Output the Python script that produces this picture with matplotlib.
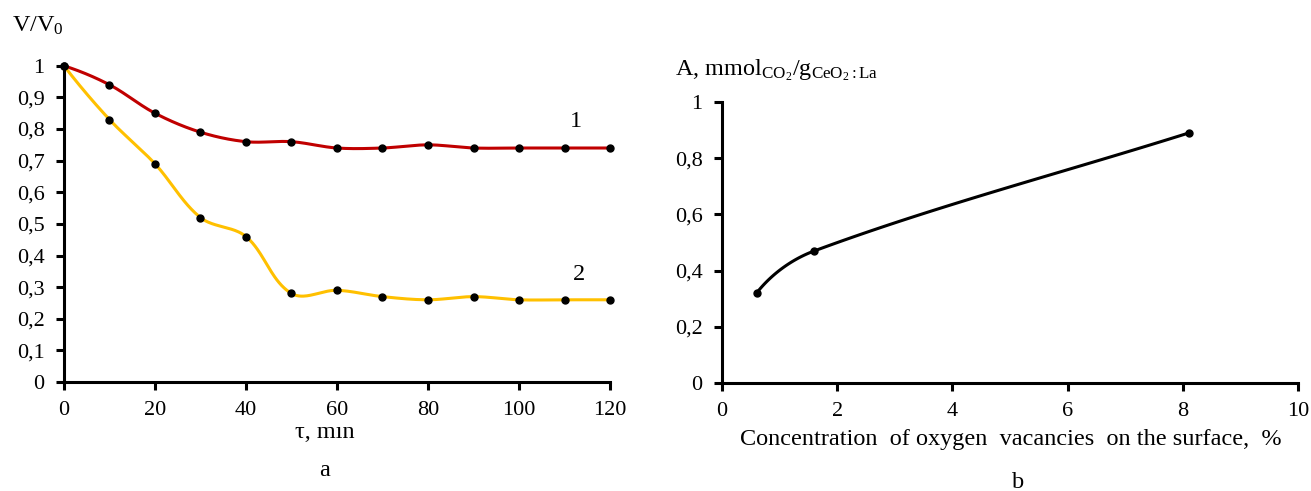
import numpy as np
import matplotlib
matplotlib.use("Agg")
import matplotlib.pyplot as plt
from matplotlib.ticker import FuncFormatter

plt.rcParams['font.family'] = ['Liberation Serif', 'DejaVu Serif']
plt.rcParams['mathtext.fontset'] = 'custom'
plt.rcParams['mathtext.rm'] = 'Liberation Serif'
plt.rcParams['mathtext.it'] = 'Liberation Serif:italic'

# ---- data ----
time_min = [0, 10, 20, 30, 40, 50, 60, 70, 80, 90, 100, 110, 120]
ratio_curve1 = [1.0, 0.94, 0.85, 0.79, 0.76, 0.76, 0.74, 0.74, 0.75, 0.74, 0.74, 0.74, 0.74]
ratio_curve2 = [1.0, 0.83, 0.69, 0.52, 0.46, 0.28, 0.29, 0.27, 0.26, 0.27, 0.26, 0.26, 0.26]
vacancy_conc = [0.6, 1.6, 8.1]
adsorption = [0.32, 0.47, 0.89]


def smooth(ax, x, y, n=40):
    """Cubic Bezier smoothing in screen space (like a spreadsheet 'smoothed line')."""
    fig = ax.figure
    bb = ax.get_position()
    W = bb.width * fig.get_figwidth() * fig.dpi
    H = bb.height * fig.get_figheight() * fig.dpi
    x0, x1 = ax.get_xlim(); y0, y1 = ax.get_ylim()
    sx = W / (x1 - x0); sy = H / (y1 - y0)
    P = np.column_stack([np.asarray(x, float) * sx, np.asarray(y, float) * sy])
    m = len(P)
    unit = lambda v: v / np.linalg.norm(v)
    U = np.zeros_like(P)
    for i in range(1, m - 1):
        U[i] = unit(P[i + 1] - P[i - 1])
    c0 = unit(P[1] - P[0])
    U[0] = 2 * c0 * np.dot(c0, U[1]) - U[1] if m > 2 else c0
    U[-1] = unit(P[-1] - P[-2])
    t = np.linspace(0, 1, n)[:, None]
    out = []
    for i in range(m - 1):
        L = np.linalg.norm(P[i + 1] - P[i])
        b0, b3 = P[i], P[i + 1]
        b1 = b0 + U[i] * L / 3
        b2 = b3 - U[i + 1] * L / 3
        out.append((1 - t) ** 3 * b0 + 3 * (1 - t) ** 2 * t * b1
                   + 3 * (1 - t) * t ** 2 * b2 + t ** 3 * b3)
    C = np.vstack(out)
    return C[:, 0] / sx, C[:, 1] / sy


comma = FuncFormatter(lambda v, p: ('%g' % round(v, 2)).replace('.', ','))

fig = plt.figure(figsize=(13.11, 4.91), dpi=100)
ax1 = fig.add_axes([0.0488, 0.222, 0.4165, 0.644])
ax2 = fig.add_axes([0.5507, 0.22, 0.4394, 0.572])

fs = 16
fl = 17.5
for ax in (ax1, ax2):
    for s in ('top', 'right'):
        ax.spines[s].set_visible(False)
    for s in ('left', 'bottom'):
        ax.spines[s].set_linewidth(2.2)
    ax.tick_params(direction='out', length=6, width=2.2, labelsize=fs, pad=8)
    ax.yaxis.set_major_formatter(comma)

# left panel
ax1.set_xlim(0, 120)
ax1.set_ylim(0, 1)
ax1.set_xticks(np.arange(0, 121, 20))
ax1.set_yticks(np.arange(0, 1.01, 0.1))
xs, ys = smooth(ax1, time_min, ratio_curve1)
ax1.plot(xs, ys, color='#C00000', lw=2.2, zorder=2, clip_on=False)
xs, ys = smooth(ax1, time_min, ratio_curve2)
ax1.plot(xs, ys, color='#FFC000', lw=2.2, zorder=2, clip_on=False)
ax1.plot(time_min, ratio_curve1, 'o', color='black', ms=5, zorder=3, clip_on=False)
ax1.plot(time_min, ratio_curve2, 'o', color='black', ms=5, zorder=3, clip_on=False)
ax1.text(112.5, 0.823, '1', fontsize=fl, ha='center', va='center')
ax1.text(113.2, 0.339, '2', fontsize=fl, ha='center', va='center')
fig.text(12 / 1311, 1 - 26 / 491, r'V/V$_{\mathrm{0}}$', fontsize=fl, ha='left', va='center')
fig.text(325 / 1311, 1 - 433 / 491, 'τ, mın', fontsize=fl, ha='center', va='center')
fig.text(325 / 1311, 1 - 471 / 491, 'a', fontsize=fl, ha='center', va='center')

# right panel
ax2.set_xlim(0, 10)
ax2.set_ylim(0, 1)
ax2.set_xticks(np.arange(0, 11, 2))
ax2.set_yticks(np.arange(0, 1.01, 0.2))
xs, ys = smooth(ax2, vacancy_conc, adsorption)
ax2.plot(xs, ys, color='black', lw=2.2, zorder=2)
ax2.plot(vacancy_conc, adsorption, 'o', color='black', ms=5, zorder=3)
fig.text(675 / 1311, 1 - 70 / 491,
         r'A, mmol$_{\mathrm{CO_2}}$/g$_{\mathrm{CeO_2{:}La}}$',
         fontsize=fl, ha='left', va='center')
fig.text(1011 / 1311, 1 - 439 / 491, 'Concentration  of oxygen  vacancies  on the surface,  %',
         fontsize=fl, ha='center', va='center')
fig.text(1018 / 1311, 1 - 482 / 491, 'b', fontsize=fl, ha='center', va='center')

fig.savefig('out.png', dpi=100)
